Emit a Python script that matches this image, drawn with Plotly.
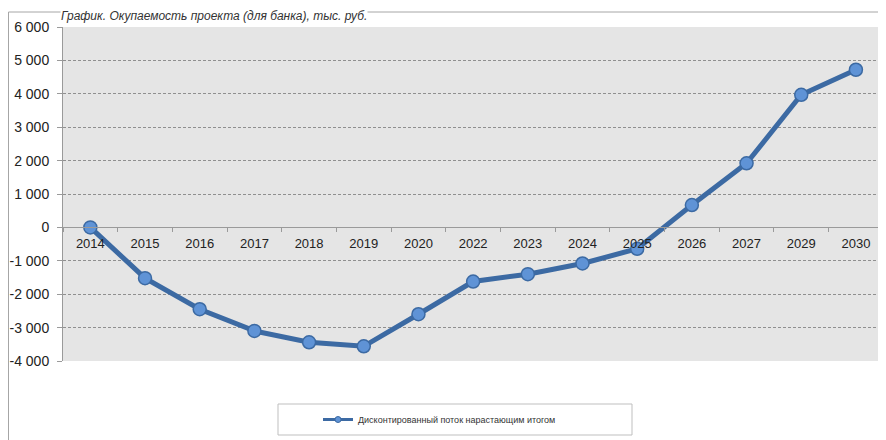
import plotly.graph_objects as go

# discounted cumulative cash flow, thousand rubles
years = ["2014", "2015", "2016", "2017", "2018", "2019", "2020", "2022",
         "2023", "2024", "2025", "2026", "2027", "2029", "2030"]
cum_flow = [0, -1520, -2450, -3100, -3440, -3560, -2600, -1620,
            -1400, -1080, -640, 670, 1920, 3970, 4720]

y_ticks = [-4000, -3000, -2000, -1000, 0, 1000, 2000, 3000, 4000, 5000, 6000]
y_labels = ["-4 000", "-3 000", "-2 000", "-1 000", "0", "1 000", "2 000",
            "3 000", "4 000", "5 000", "6 000"]

title_text = "График. Окупаемость проекта (для банка), тыс. руб."
series_name = "Дисконтированный поток нарастающим итогом"

LINE_BLUE = "#3c6aa3"
MARKER_BLUE = "#5f93d6"
GRID = "#8f8f8f"
AXIS = "#9a9a9a"

# page body has an 8px margin, so the figure starts at (8, 8) of the window
OFF = 8
W, H = 886 - OFF, 440 - OFF
ML, MT = 63 - OFF, 27 - OFF
MR, MB = 0, 440 - 361
PW, PH = W - ML - MR, H - MT - MB


def px_x(x):
    # window pixel -> paper x
    return (x - OFF - ML) / PW


def px_y(y):
    # window pixel -> paper y
    return (H - MB - (y - OFF)) / PH


fig = go.Figure()

fig.add_trace(go.Scatter(
    x=years, y=cum_flow,
    mode="lines+markers",
    showlegend=False,
    line=dict(color=LINE_BLUE, width=5),
    marker=dict(size=13, color=MARKER_BLUE, line=dict(color=LINE_BLUE, width=1.5)),
))

# small legend sample, like the original
fig.add_trace(go.Scatter(
    x=[None], y=[None],
    mode="lines+markers",
    name=series_name,
    line=dict(color=LINE_BLUE, width=3),
    marker=dict(size=6, color=MARKER_BLUE, line=dict(color=LINE_BLUE, width=1)),
))

fig.update_layout(
    width=W, height=H,
    margin=dict(l=ML, r=MR, t=MT, b=MB),
    paper_bgcolor="white",
    plot_bgcolor="#e5e5e5",
    font=dict(family="Arial, Liberation Sans, sans-serif", color="#222", size=12),
    showlegend=True,
    legend=dict(
        orientation="h",
        x=px_x(318), xanchor="left",
        y=px_y(419.5), yanchor="middle",
        bgcolor="rgba(0,0,0,0)",
        font=dict(size=9, color="#333"),
        itemwidth=30,
    ),
    xaxis=dict(
        type="category",
        range=[-0.5, 14.55],
        anchor="free",
        position=0.4,
        showline=True, linecolor=AXIS, linewidth=1,
        ticks="outside", ticklen=4, tickcolor=AXIS,
        tickson="boundaries",
        ticklabelstandoff=4,
        showgrid=False,
        tickfont=dict(size=13, color="#222"),
    ),
    yaxis=dict(
        range=[-4000, 6000],
        tickvals=y_ticks, ticktext=y_labels,
        showline=True, linecolor=AXIS, linewidth=1,
        ticks="outside", ticklen=5, tickcolor=AXIS,
        ticklabelstandoff=5,
        showgrid=True, gridcolor=GRID, gridwidth=1, griddash="3px,2px",
        zeroline=False,
        tickfont=dict(size=14, color="#222"),
    ),
    shapes=[
        # outer chart frame
        dict(type="rect", xref="paper", yref="paper",
             x0=px_x(8.5), x1=px_x(900), y0=px_y(450), y1=px_y(12),
             line=dict(color="#a6a6a6", width=1), fillcolor="rgba(0,0,0,0)",
             layer="below"),
        # legend frame
        dict(type="rect", xref="paper", yref="paper",
             x0=px_x(278), x1=px_x(632), y0=px_y(435), y1=px_y(404),
             line=dict(color="#bfbfbf", width=1), fillcolor="white"),
    ],
    annotations=[
        dict(text=f"<i>{title_text}</i>", xref="paper", yref="paper",
             x=px_x(60), xanchor="left", y=px_y(8), yanchor="top",
             showarrow=False, bgcolor="white", borderpad=0,
             font=dict(size=12, color="#333")),
    ],
)

fig.write_html("out.html")
